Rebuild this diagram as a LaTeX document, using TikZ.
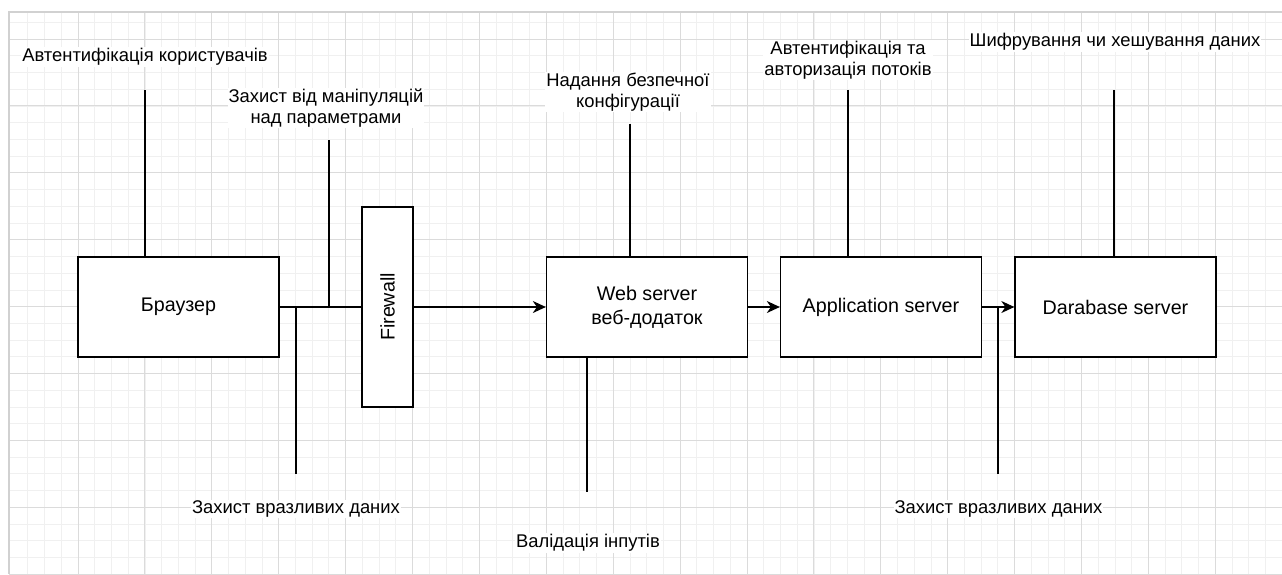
\documentclass[tikz,border=0pt]{standalone}
\usepackage{fontspec}
\setmainfont{Liberation Sans}
\usetikzlibrary{positioning, arrows.meta}
\definecolor{gridmajor}{rgb}{0.86,0.86,0.86}
\definecolor{gridminor}{rgb}{0.94,0.94,0.94}
\definecolor{gridedge}{rgb}{0.82,0.82,0.82}

\begin{document}
\begin{tikzpicture}[
  x=1pt, y=-1pt,
  every node/.style={
    font=\fontsize{19.7}{24}\selectfont,
    text=black
  },
  box/.style={
    draw,
    line width=1.3pt,
    fill=white,
    minimum width=201pt,
    minimum height=100pt,
    inner sep=0pt,
    align=center
  },
  note/.style={
    font=\fontsize{18.4}{21.5}\selectfont,
    fill=white,
    inner sep=1pt,
    align=center
  },
  link/.style={
    line width=1.3pt
  },
  link arrow/.style={
    line width=1.3pt,
    -{Stealth[length=13pt, width=12pt, inset=4pt]}
  },
  minor line/.style={gridminor, line width=0.8pt},
  major line/.style={gridmajor, line width=1pt}
]

\useasboundingbox[fill=white] (0,0) rectangle (1282,574);

% grid
\foreach \k in {1,...,76}
  \draw[minor line] ({11.1+16.725*\k},12) -- ({11.1+16.725*\k},574);
\foreach \k in {0,...,33}
  \draw[minor line] (9,{22.3+16.725*\k}) -- (1282,{22.3+16.725*\k});
\foreach \k in {4,8,...,76}
  \draw[major line] ({11.1+16.725*\k},12) -- ({11.1+16.725*\k},574);
\foreach \k in {1,5,...,33}
  \draw[major line] (9,{22.3+16.725*\k}) -- (1282,{22.3+16.725*\k});
\draw[gridedge, line width=1.6pt] (9,574) -- (9,12) -- (1282,12);

% servers
\node (browser) [box] at (178.5,307) {Браузер};
\node (firewall) [box, minimum width=51pt, minimum height=200pt] at (387.5,307) {\rotatebox{90}{Firewall}};
\node (web) [box] at (647,307) {Web server\\веб-додаток};
\node (app) [box] at (881,307) {Application server};
\node (db) [box] at (1115.5,307) {Darabase server};

% notes
\node (lblusers) [note] at (145,57) {Автентифікація користувачів};
\node (lblparams) [note] at (326,108) {Захист від маніпуляцій\\над параметрами};
\node (lblconfig) [note] at (628,92) {Надання безпечної\\конфігурації};
\node (lblflows) [note] at (848,60) {Автентифікація та\\авторизація потоків};
\node (lblcrypt) [note] at (1115,42) {Шифрування чи хешування даних};
\node (lblsensleft) [note] at (296,509) {Захист вразливих даних};
\node (lblinputs) [note] at (588,543) {Валідація інпутів};
\node (lblsensright) [note] at (998.5,509) {Захист вразливих даних};

% free ends
\coordinate (users end) at (145,90);
\coordinate (params end) at (329,140);
\coordinate (params joint) at (329,307);
\coordinate (sensleft end) at (296,474);
\coordinate (sensleft joint) at (296,307);
\coordinate (config end) at (630,124);
\coordinate (inputs end) at (587,492);
\coordinate (flows end) at (848,90);
\coordinate (sensright end) at (998,474);
\coordinate (sensright joint) at (998,307);
\coordinate (crypt end) at (1114,90);

\draw[link] (browser.east) -- (firewall.west);
\draw[link arrow] (firewall.east) -- (web.west);
\draw[link arrow] (web.east) -- (app.west);
\draw[link arrow] (app.east) -- (db.west);

\draw[link] (users end |- browser.north) -- (users end);
\draw[link] (params joint) -- (params end);
\draw[link] (sensleft joint) -- (sensleft end);
\draw[link] (config end |- web.north) -- (config end);
\draw[link] (inputs end |- web.south) -- (inputs end);
\draw[link] (flows end |- app.north) -- (flows end);
\draw[link] (sensright joint) -- (sensright end);
\draw[link] (crypt end |- db.north) -- (crypt end);

\end{tikzpicture}
\end{document}
